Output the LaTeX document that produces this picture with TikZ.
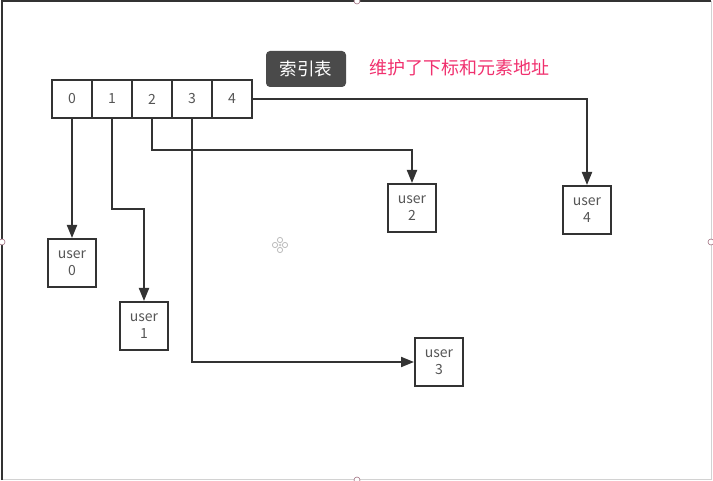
\documentclass[tikz,border=0pt]{standalone}
\usepackage{fontspec}
\setmainfont{Noto Sans CJK SC}
\usepackage{tikz}
\usetikzlibrary{arrows.meta}

\definecolor{linegray}{HTML}{333333}
\definecolor{textgray}{HTML}{555555}
\definecolor{tagfill}{HTML}{4A4A4A}
\definecolor{notepink}{HTML}{F0306E}
\definecolor{handlered}{HTML}{A07080}

\tikzset{
  cell/.style={draw=linegray, line width=2pt, minimum width=40pt, minimum height=38pt,
    inner sep=0pt, text=textgray, font=\fontsize{14}{16}\selectfont},
  userbox/.style={draw=linegray, line width=2pt, minimum width=48pt, minimum height=48pt,
    inner sep=0pt, align=center, text=textgray, font=\fontsize{14}{17}\selectfont},
  link/.style={draw=linegray, line width=2pt, -{Triangle[width=10pt,length=13pt]}},
  handle/.style={draw=handlered, fill=white, line width=0.6pt}
}

\begin{document}
\begin{tikzpicture}[x=1pt, y=-1pt]
  \useasboundingbox (0,0) rectangle (713,481);

  % frame of the canvas
  \draw[gray!35, line width=1pt] (711.5,1) -- (711.5,479.5) -- (2,479.5);
  \draw[linegray, line width=2pt] (2,480) -- (2,1) -- (711,1);
  \foreach \x/\y in {357/1, 2/242, 711/242, 357/480}
    \draw[handle] (\x,\y) circle (3pt);

  % tag and note
  \node[fill=tagfill, rounded corners=4pt, minimum width=80pt, minimum height=36pt,
    text=white, font=\fontsize{17.5}{19}\selectfont] (tag) at (306,69) {索引表};
  \node[text=notepink, font=\fontsize{18}{20}\selectfont] (note) at (459,68) {维护了下标和元素地址};

  % index table
  \foreach \i in {0,...,4}
    \node[cell] (c\i) at (72+40*\i,99) {\i};

  % user boxes
  \node[userbox] (u0) at (72,263) {user\\0};
  \node[userbox] (u1) at (144,326) {user\\1};
  \node[userbox] (u2) at (412,208) {user\\2};
  \node[userbox] (u3) at (439,362) {user\\3};
  \node[userbox] (u4) at (587,210) {user\\4};

  % links
  \draw[link] (c0.south) -- (u0.north);
  \draw[link] (c1.south) -- ++(0,90) -| (u1.north);
  \draw[link] (c2.south) -- ++(0,31) -| (u2.north);
  \draw[link] (c3.south) |- (u3.west);
  \draw[link] (c4.east) -| (u4.north);

  % move cursor
  \foreach \dx/\dy in {0/-5, 5/0, 0/5, -5/0}
    \draw[gray!55, line width=0.8pt] (280+\dx,245+\dy) circle (2.6pt);
  \fill[gray!40] (280,245) circle (1.5pt);
\end{tikzpicture}
\end{document}
